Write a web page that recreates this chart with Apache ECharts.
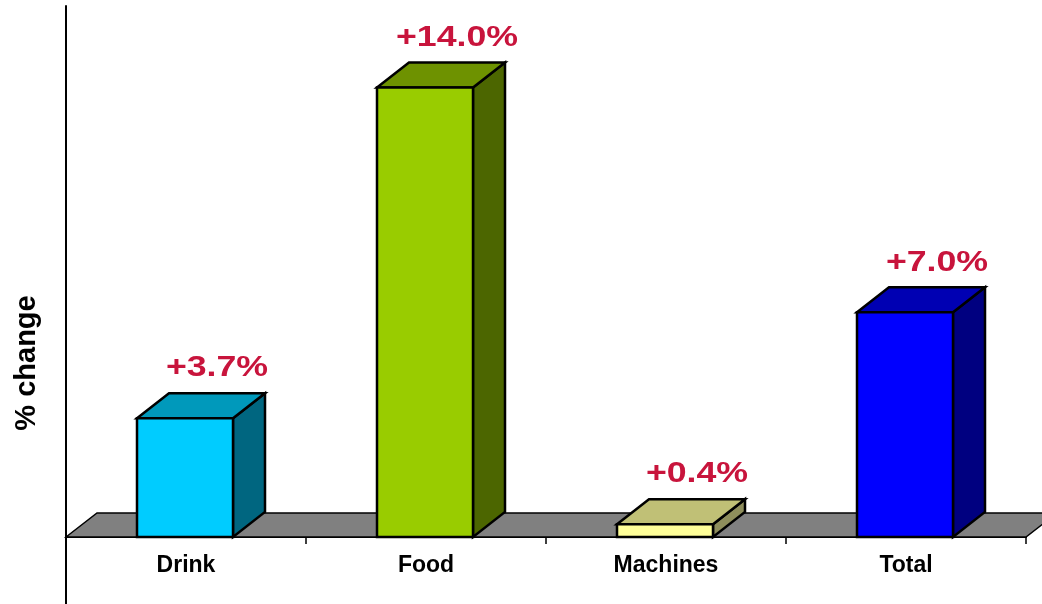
<!DOCTYPE html>
<html>
<head>
<meta charset="utf-8">
<script src="https://cdn.jsdelivr.net/npm/echarts@6/dist/echarts.min.js"></script>
<style>
html,body{margin:0;padding:0;background:#fff;}
#c{width:1042px;height:604px;}
</style>
</head>
<body>
<div id="c"></div>
<script>
// ---- data ----
const categories = ['Drink', 'Food', 'Machines', 'Total'];
const values = [3.7, 14.0, 0.4, 7.0];
const valueLabels = ['+3.7%', '+14.0%', '+0.4%', '+7.0%'];
const axisTitle = '% change';

// ---- styles ----
const palette = {
  front: ['#00CCFF', '#99CC00', '#FFFF99', '#0000FF'],
  top:   ['#0099BB', '#6E9200', '#C0C076', '#0000B3'],
  side:  ['#006680', '#4C6600', '#8E8E5C', '#000080']
};
const DX = 32, DY = -25;        // bar depth
const FDX = 31, FDY = -24;      // floor depth
const FONT = 'Liberation Sans, Arial, sans-serif';

const chart = echarts.init(document.getElementById('c'), null, {renderer: 'canvas'});

const option = {
  backgroundColor: '#ffffff',
  animation: false,
  grid: {left: 66, right: 16, top: 6, bottom: 67, containLabel: false, outerBoundsMode: 'none'},
  xAxis: {
    type: 'category',
    data: categories,
    boundaryGap: true,
    axisLine: {show: true, lineStyle: {color: '#000', width: 2}},
    axisTick: {show: true, length: 7, lineStyle: {color: '#000', width: 1.5}},
    axisLabel: {color: '#000', fontFamily: FONT, fontWeight: 'bold', fontSize: 23, margin: 17},
    splitLine: {show: false}
  },
  yAxis: {
    type: 'value',
    min: 0,
    max: 16.54,
    axisLine: {show: true, lineStyle: {color: '#000', width: 2}},
    axisTick: {show: false},
    axisLabel: {show: false},
    splitLine: {show: false}
  },
  graphic: [
    {
      type: 'line',
      shape: {x1: 66, y1: 537, x2: 66, y2: 604},
      style: {stroke: '#000', lineWidth: 2}
    },
    {
      type: 'text',
      x: 27, y: 363,
      rotation: Math.PI / 2,
      style: {
        text: axisTitle,
        font: 'bold 29px ' + FONT,
        fill: '#000',
        align: 'center',
        verticalAlign: 'middle'
      }
    }
  ],
  series: [
    {
      type: 'custom',
      z: 1,
      data: [[0, 0]],
      renderItem: function (params, api) {
        const cs = params.coordSys;
        const y0 = api.coord([0, 0])[1];
        const x0 = cs.x, x1 = cs.x + cs.width;
        return {
          type: 'polygon',
          shape: {points: [[x0, y0], [x0 + FDX, y0 + FDY], [x1 + FDX, y0 + FDY], [x1, y0]]},
          style: {fill: '#808080', stroke: '#000', lineWidth: 1.5}
        };
      }
    },
    {
      type: 'custom',
      z: 2,
      data: values.map((v, i) => [i, v]),
      renderItem: function (params, api) {
        const i = api.value(0);
        const base = api.coord([i, 0]);
        const topPt = api.coord([i, api.value(1)]);
        const cx = base[0];
        const L = cx - 49, R = cx + 47;
        const B = base[1], T = topPt[1];
        const st = {stroke: '#000', lineWidth: 2.5, lineJoin: 'miter'};
        return {
          type: 'group',
          children: [
            {type: 'polygon', shape: {points: [[R, T], [R + DX, T + DY], [R + DX, B + DY], [R, B]]},
             style: Object.assign({fill: palette.side[i]}, st)},
            {type: 'polygon', shape: {points: [[L, T], [L + DX, T + DY], [R + DX, T + DY], [R, T]]},
             style: Object.assign({fill: palette.top[i]}, st)},
            {type: 'rect', shape: {x: L, y: T, width: R - L, height: B - T},
             style: Object.assign({fill: palette.front[i]}, st)},
            {type: 'text', x: (L + R) / 2 + DX, y: T + DY - 10, scaleX: 1.19,
             style: {text: valueLabels[i], x: 0, y: 0, align: 'center', verticalAlign: 'bottom',
                     font: 'bold 30px ' + FONT, fill: '#C8143C'}}
          ]
        };
      }
    }
  ]
};
chart.setOption(option);
</script>
</body>
</html>
